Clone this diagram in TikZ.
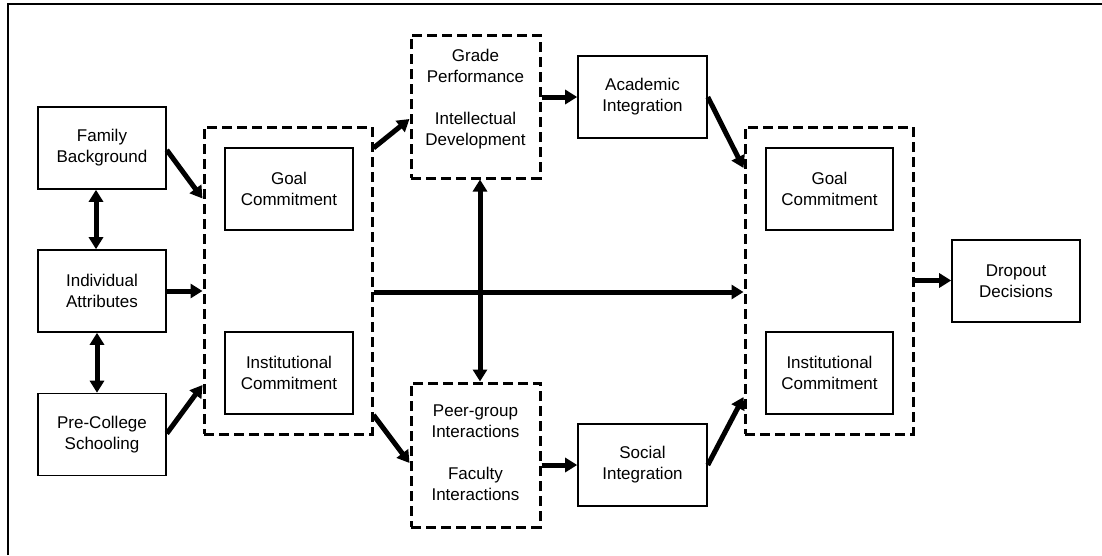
\documentclass[tikz,border=0pt]{standalone}
\usepackage{fontspec}
\setmainfont{Liberation Sans}
\usetikzlibrary{arrows.meta,calc}
\begin{document}
\begin{tikzpicture}[x=1pt,y=-1pt,
  font=\fontsize{17}{21}\selectfont,
  solidbox/.style={draw,line width=1.6pt,minimum width=128pt,minimum height=82pt,inner sep=0pt,align=center},
  dashbox/.style={draw,line width=3pt,dash pattern=on 10pt off 5pt,inner sep=0pt},
  txt/.style={align=center,inner sep=0pt},
  conn/.style={line width=5pt,-{Triangle[length=12pt,width=14pt]}},
  dconn/.style={line width=5pt,{Triangle[length=12pt,width=14pt]}-{Triangle[length=12pt,width=14pt]}}]
\useasboundingbox (0,0) rectangle (1102,555);
% frame (top and left only)
\draw[line width=2pt] (8,555) -- (8,4) -- (1102,4);

% left inputs
\node[solidbox] (FB) at (102,148) {Family\\Background};
\node[solidbox] (IA) at (102,291) {Individual\\Attributes};
\node[solidbox] (PC) at (102,434.5) {Pre-College\\Schooling};

% left commitments group
\node[dashbox,minimum width=168pt,minimum height=307pt] (LD) at (288,280.5) {};
\node[solidbox] (LGC) at (289,189) {Goal\\Commitment};
\node[solidbox] (LIC) at (289,373) {Institutional\\Commitment};

% academic system
\node[dashbox,minimum width=129pt,minimum height=143pt] (GP) at (475.5,106.5) {};
\node[txt] (GPt) at (475.5,99) {Grade\\Performance\\[21pt]Intellectual\\Development};
\node[solidbox,minimum width=129pt] (AI) at (642.5,97) {Academic\\Integration};

% social system
\node[dashbox,minimum width=129pt,minimum height=144pt] (PI) at (475.5,455) {};
\node[txt] (PIt) at (475.5,453) {Peer-group\\Interactions\\[21pt]Faculty\\Interactions};
\node[solidbox,minimum width=129pt] (SI) at (642.5,465) {Social\\Integration};

% right commitments group
\node[dashbox,minimum width=168pt,minimum height=307pt] (RD) at (829,280.5) {};
\node[solidbox,minimum width=127pt] (RGC) at (829.5,189) {Goal\\Commitment};
\node[solidbox,minimum width=127pt] (RIC) at (829.5,373) {Institutional\\Commitment};

% outcome
\node[solidbox] (DD) at (1016,281) {Dropout\\Decisions};

% connectors
\draw[dconn] ([xshift=-6pt]FB.south) -- ([xshift=-6pt]IA.north);
\draw[dconn] ([xshift=-5pt]IA.south) -- ([xshift=-5pt]PC.north);
\draw[conn] ([yshift=-2pt]FB.east) -- ([yshift=82pt]LD.west);
\draw[conn] (IA.east) -- (IA.east -| LD.west);
\draw[conn] ([yshift=1pt]PC.east) -- ([yshift=-104.5pt]LD.west);
\draw[conn] ([yshift=132.5pt]LD.east) -- ([yshift=-12.5pt]GP.west);
\draw[conn] ([yshift=-134.5pt]LD.east) -- ([yshift=-8pt]PI.west);
\draw[conn] (AI.west -| GP.east) -- (AI.west);
\draw[conn] (SI.west -| PI.east) -- (SI.west);
\draw[dconn] ([xshift=4.5pt]GP.south) -- ([xshift=4.5pt]PI.north);
\draw[conn] ([yshift=-11.5pt]LD.east) -- ([yshift=-11.5pt]RD.west);
\draw[conn] (AI.east) -- ([yshift=112.5pt]RD.west);
\draw[conn] (SI.east) -- ([yshift=-116.5pt]RD.west);
\draw[conn] (RD.east) -- (RD.east -| DD.west);
\end{tikzpicture}
\end{document}
